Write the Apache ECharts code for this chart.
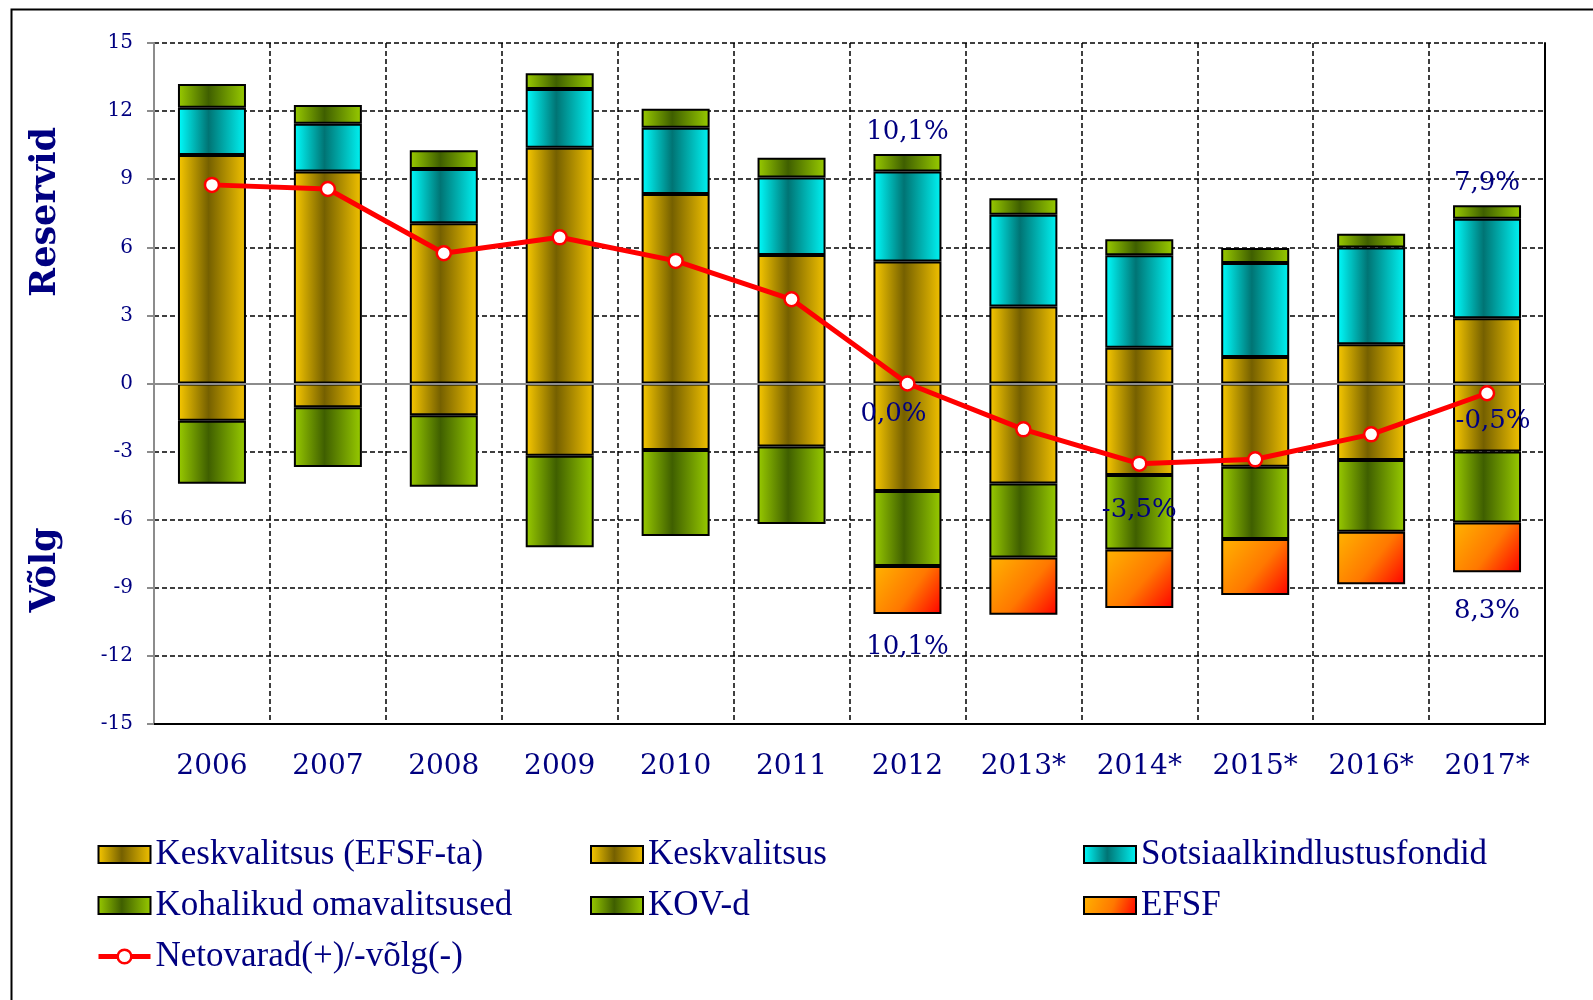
<!DOCTYPE html>
<html>
<head>
<meta charset="utf-8">
<script src="https://cdn.jsdelivr.net/npm/echarts@6/dist/echarts.min.js"></script>
<style>
html,body{margin:0;padding:0;background:#fff;}
#c{width:1593px;height:1000px;}
</style>
</head>
<body>
<div id="c"></div>
<script>
// ---- data ----
const years = ['2006','2007','2008','2009','2010','2011','2012','2013*','2014*','2015*','2016*','2017*'];
const yTicks = [-15,-12,-9,-6,-3,0,3,6,9,12,15];
// reserves (positive)
const keskvalitsus = [10.07, 9.34, 7.06, 10.39, 8.35, 5.66, 5.37, 3.39, 1.58, 1.17, 1.73, 2.87];
const sotsiaal = [2.08, 2.10, 2.39, 2.58, 2.92, 3.41, 3.97, 4.04, 4.07, 4.14, 4.26, 4.39];
const kohalikud = [1.04, 0.83, 0.83, 0.70, 0.83, 0.87, 0.77, 0.73, 0.70, 0.66, 0.61, 0.59];
// debt (negative)
const keskvalitsusEfsfta = [-1.64, -1.05, -1.40, -3.18, -2.93, -2.78, -4.74, -4.40, -4.03, -3.67, -3.37, -3.00];
const kovd = [-2.78, -2.63, -3.15, -4.03, -3.79, -3.41, -3.30, -3.26, -3.28, -3.18, -3.16, -3.12];
const efsf = [null, null, null, null, null, null, -2.11, -2.53, -2.58, -2.47, -2.31, -2.19];
// net assets (+) / debt (-)
const netovarad = [8.75, 8.57, 5.74, 6.44, 5.40, 3.71, 0.0, -2.02, -3.53, -3.34, -2.24, -0.43];
// annotation texts
const topLabels = ['', '', '', '', '', '', '10,1%', '', '', '', '', '7,9%'];
const bottomLabels = ['', '', '', '', '', '', '10,1%', '', '', '', '', '8,3%'];
const netLabels = ['', '', '', '', '', '', '0,0%', '', '-3,5%', '', '', '-0,5%'];

// ---- styles ----
const NAVY = '#000080';
const G = echarts.graphic.LinearGradient;
const yellowGrad = new G(0,0,1,0,[{offset:0,color:'#FACA00'},{offset:0.45,color:'#756000'},{offset:1,color:'#F2C200'}]);
const cyanGrad = new G(0,0,1,0,[{offset:0,color:'#00FFFF'},{offset:0.45,color:'#007474'},{offset:1,color:'#00F4F4'}]);
const greenGrad = new G(0,0,1,0,[{offset:0,color:'#9ACC00'},{offset:0.45,color:'#3F5F00'},{offset:1,color:'#99CC00'}]);
const efsfGrad = new G(0,0,1,1,[{offset:0,color:'#FFB400'},{offset:0.55,color:'#FF7800'},{offset:1,color:'#FF0000'}]);

const labelFont = {fontFamily:'DejaVu Serif', fontSize:26, color:NAVY};
const netOffsets = {6:[-14,31], 8:[0,47], 11:[6,28]};
const bottomOffsets = {6:[0,0], 11:[0,6]};
const LINE_NAME = 'Netovarad(+)/-võlg(-)';

function barSeries(name, data, color, extra) {
  return Object.assign({
    name, type:'bar', stack:'total', data, barWidth:68,
    itemStyle:{color, borderColor:'#000', borderWidth:2},
    emphasis:{disabled:true}
  }, extra || {});
}

const series = [
  barSeries('Keskvalitsus', keskvalitsus, yellowGrad),
  barSeries('Keskvalitsus (EFSF-ta)', keskvalitsusEfsfta, yellowGrad),
  barSeries('Sotsiaalkindlustusfondid', sotsiaal, cyanGrad),
  barSeries('Kohalikud omavalitsused', kohalikud.map((v,i)=>({
    value:v,
    label: topLabels[i] ? {show:true, position:'top', distance:9, formatter:topLabels[i], ...labelFont} : {show:false}
  })), greenGrad),
  barSeries('KOV-d', kovd, greenGrad),
  barSeries('EFSF', efsf.map((v,i)=>({
    value:v,
    label: bottomLabels[i] ? {show:true, position:'bottom', distance:20, offset:bottomOffsets[i], formatter:bottomLabels[i], ...labelFont} : {show:false}
  })), efsfGrad),
  {
    name:LINE_NAME, type:'line', z:5,
    data: netovarad.map((v,i)=>({
      value:v,
      label: netLabels[i] ? {show:true, position:'inside', offset:netOffsets[i], formatter:netLabels[i], ...labelFont} : {show:false}
    })),
    lineStyle:{color:'#FF0000', width:5},
    itemStyle:{color:'#FFFFFF', borderColor:'#FF0000', borderWidth:2.5},
    symbol:'circle', symbolSize:14, showSymbol:true,
    emphasis:{disabled:true},
    markLine:{silent:true, symbol:'none', label:{show:false}, z:3,
      lineStyle:{color:'#8C8C8C', width:2, type:'solid'}, data:[{yAxis:0}]}
  }
];

const legendText = {fontFamily:'Liberation Serif', fontSize:35, color:NAVY, lineHeight:34};
function legend(left, names) {
  return {left, top:837, padding:0, orient:'vertical', itemWidth:52, itemHeight:17, itemGap:16,
    data:names.map(n => n === LINE_NAME
      ? {name:n, itemStyle:{color:'#fff', borderColor:'#FF0000', borderWidth:2.5}, lineStyle:{color:'#FF0000', width:5}}
      : {name:n, icon:'rect', itemStyle:{borderColor:'#000', borderWidth:2}}),
    textStyle:legendText, selectedMode:false};
}

const chart = echarts.init(document.getElementById('c'), null, {renderer:'canvas'});
chart.setOption({
  animation:false,
  backgroundColor:'#fff',
  grid:{left:154, right:48, top:43, bottom:276, containLabel:false},
  xAxis:{
    type:'category', data:years, boundaryGap:true,
    axisLine:{onZero:false, lineStyle:{color:'#000', width:2}},
    axisTick:{show:false},
    axisLabel:{margin:29, fontFamily:'DejaVu Serif', fontSize:28, color:NAVY, interval:0},
    splitLine:{show:true, interval:0, lineStyle:{color:'#000', width:1.5, type:[5,3]}}
  },
  yAxis:[{
    type:'value', min:yTicks[0], max:yTicks[yTicks.length-1], interval:3,
    axisLine:{show:true, lineStyle:{color:'#8C8C8C', width:2}},
    axisTick:{show:true, inside:false, length:7, lineStyle:{color:'#8C8C8C', width:2}},
    axisLabel:{margin:21, fontFamily:'DejaVu Serif', fontSize:20, color:NAVY},
    splitLine:{show:true, lineStyle:{color:'#000', width:1.5, type:[5,3]}}
  },{
    type:'value', position:'right', min:-15, max:15, interval:3,
    axisLine:{show:true, lineStyle:{color:'#000', width:2}},
    axisTick:{show:false}, axisLabel:{show:false}, splitLine:{show:false}
  }],
  legend:[
    legend(96, ['Keskvalitsus (EFSF-ta)','Kohalikud omavalitsused',LINE_NAME]),
    legend(590, ['Keskvalitsus','KOV-d']),
    legend(1083, ['Sotsiaalkindlustusfondid','EFSF'])
  ],
  graphic:[
    {type:'rect', left:9, top:7, shape:{width:1620, height:1020}, style:{fill:'none', stroke:'#000', lineWidth:2}, silent:true, z:-1},
    {type:'text', x:46, y:212, rotation:Math.PI/2, style:{text:'Reservid', font:'bold 35px "DejaVu Serif"', fill:NAVY, align:'center', verticalAlign:'middle'}},
    {type:'text', x:46, y:570, rotation:Math.PI/2, style:{text:'Võlg', font:'bold 35px "DejaVu Serif"', fill:NAVY, align:'center', verticalAlign:'middle'}}
  ],
  series
});
</script>
</body>
</html>
